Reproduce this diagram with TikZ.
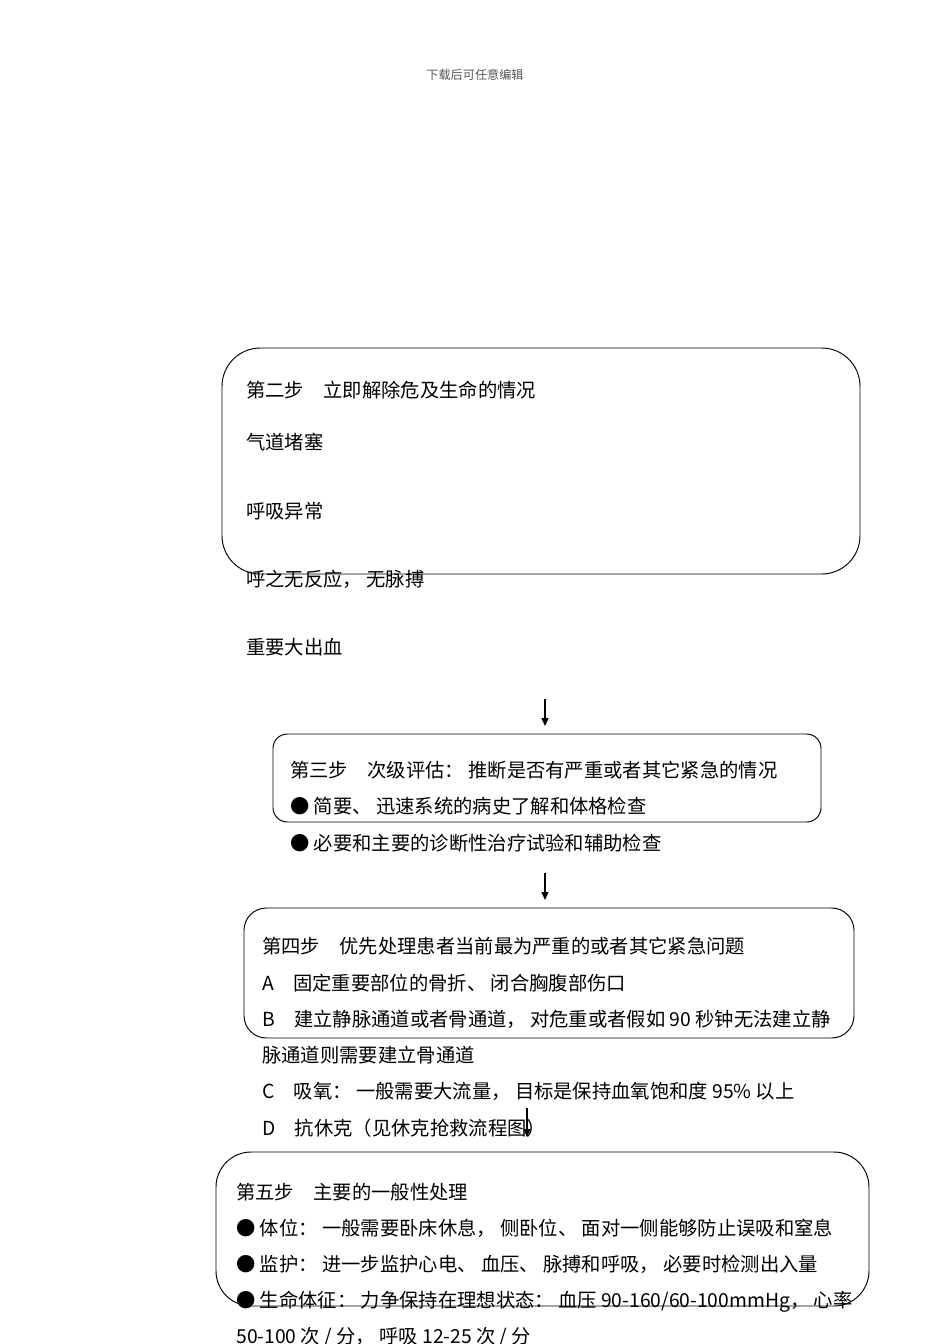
\documentclass[tikz,border=0pt]{standalone}
\usepackage{fontspec}
\usepackage{xcolor}
\usepackage{tikz}
\usetikzlibrary{arrows.meta, positioning, fit}
\newfontfamily\cjk{Noto Sans CJK SC}
\definecolor{C_LINE}{HTML}{000000}
\definecolor{C_HDR} {HTML}{555555}
\tikzset{
  %% -- rounded step box --
  FC/box/.style={
    draw=C_LINE, line width=0.6pt, inner sep=0pt
  },
  %% -- one line of text --
  FC/txt/.style={
    anchor=base west, inner sep=0pt, font=\cjk\fontsize{12.1pt}{13pt}\selectfont
  },
  %% -- page header --
  FC/hdr/.style={
    inner sep=0pt, text=C_HDR, font=\cjk\fontsize{7.6pt}{9pt}\selectfont
  },
  %% -- flow arrow --
  FC/arr/.style={-{Triangle[length=5pt, width=4.4pt]}, line width=0.7pt},
}

\begin{document}
\begin{tikzpicture}[x=0.6266pt, y=-0.6266pt]
\useasboundingbox (0,0) rectangle (950,1344);

%% Header
\node[FC/hdr] (hdr) at (475, 75) {下载后可任意编辑};

%% Step 2
\node[FC/box, rounded corners=24pt, fit={(222,348) (860,574)}] (box2) {};
\node[FC/txt] (s2t) at (246, 397) {第二步　立即解除危及生命的情况};
\node[FC/txt] (s2a) at (246, 449) {气道堵塞};
\node[FC/txt] (s2b) at (246, 518) {呼吸异常};
\node[FC/txt] (s2c) at (246, 586) {呼之无反应， 无脉搏};
\node[FC/txt] (s2d) at (246, 654) {重要大出血};

\coordinate (a1s) at (545, 699);
\coordinate (a1e) at (545, 726);
\draw[FC/arr] (a1s) -- (a1e);

%% Step 3
\node[FC/box, rounded corners=9pt, fit={(273,734) (821,822)}] (box3) {};
\node[FC/txt] (s3t) at (290, 777) {第三步　次级评估： 推断是否有严重或者其它紧急的情况};
\node[FC/txt] (s3a) at (290, 813) {● 简要、 迅速系统的病史了解和体格检查};
\node[FC/txt] (s3b) at (290, 850) {● 必要和主要的诊断性治疗试验和辅助检查};

\coordinate (a2s) at (545, 873);
\coordinate (a2e) at (545, 900);
\draw[FC/arr] (a2s) -- (a2e);

%% Step 4
\node[FC/box, rounded corners=14pt, fit={(244,908) (854,1038)}] (box4) {};
\node[FC/txt] (s4t) at (262, 953)  {第四步　优先处理患者当前最为严重的或者其它紧急问题};
\node[FC/txt] (s4a) at (262, 990)  {A　固定重要部位的骨折、 闭合胸腹部伤口};
\node[FC/txt] (s4b) at (262, 1026) {B　建立静脉通道或者骨通道， 对危重或者假如 90 秒钟无法建立静};
\node[FC/txt] (s4c) at (262, 1062) {脉通道则需要建立骨通道};
\node[FC/txt] (s4d) at (262, 1098) {C　吸氧： 一般需要大流量， 目标是保持血氧饱和度 95\% 以上};
\node[FC/txt] (s4e) at (262, 1135) {D　抗休克（见休克抢救流程图）};

\coordinate (a3s) at (527, 1108);
\coordinate (a3e) at (527, 1137);
\draw[FC/arr] (a3s) -- (a3e);

%% Step 5
\node[FC/box, rounded corners=22pt, fit={(216,1152) (869,1306)}] (box5) {};
\node[FC/txt] (s5t) at (236, 1199) {第五步　主要的一般性处理};
\node[FC/txt] (s5a) at (236, 1235) {● 体位： 一般需要卧床休息， 侧卧位、 面对一侧能够防止误吸和窒息};
\node[FC/txt] (s5b) at (236, 1271) {● 监护： 进一步监护心电、 血压、 脉搏和呼吸， 必要时检测出入量};
\node[FC/txt] (s5c) at (236, 1307) {● 生命体征： 力争保持在理想状态： 血压 90-160/60-100mmHg， 心率};
\node[FC/txt] (s5d) at (236, 1343) {50-100 次 / 分， 呼吸 12-25 次 / 分};
\end{tikzpicture}
\end{document}
